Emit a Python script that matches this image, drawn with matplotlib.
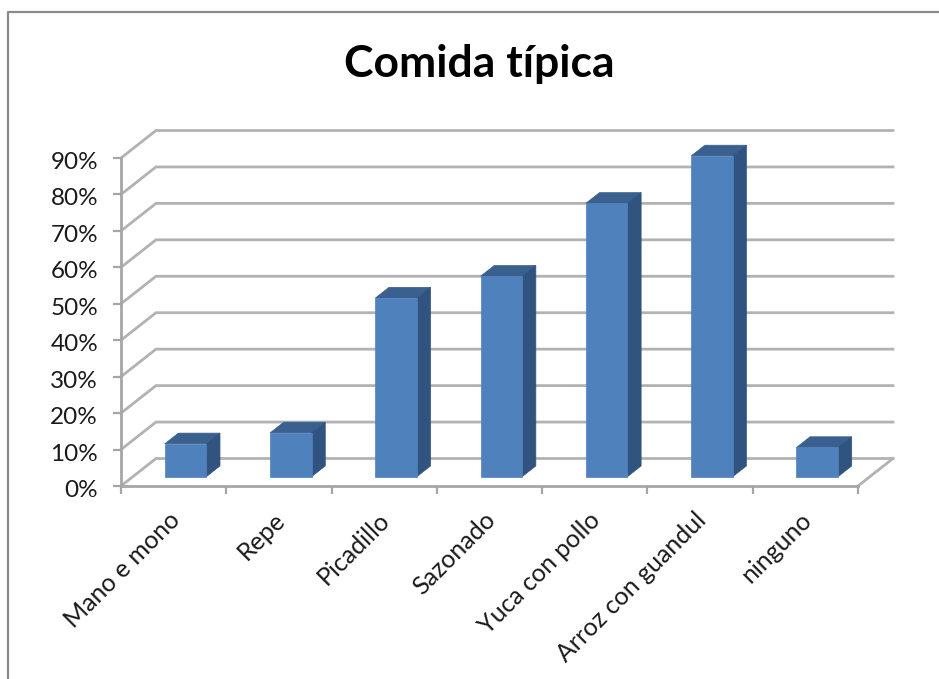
# Comida tipica - fake 3D column chart
import numpy as np
import matplotlib
matplotlib.use('Agg')
import matplotlib.pyplot as plt
from matplotlib.lines import Line2D
from matplotlib.patches import Polygon
from matplotlib.ticker import PercentFormatter
from matplotlib.transforms import ScaledTranslation

categories = ['Mano e mono', 'Repe', 'Picadillo', 'Sazonado',
              'Yuca con pollo', 'Arroz con guandul', 'ninguno']
values = [0.09, 0.12, 0.49, 0.55, 0.75, 0.88, 0.08]
y_ticks = [0.0, 0.1, 0.2, 0.3, 0.4, 0.5, 0.6, 0.7, 0.8, 0.9]

W, H = 939, 679
plt.rcParams['font.family'] = ['Lato', 'DejaVu Sans']

fig = plt.figure(figsize=(W / 100, H / 100), dpi=100)
# front plane of the 3D box
ax = fig.add_axes([121 / W, 1 - 486 / H, 737 / W, 328 / H])
ax.set_xlim(0, len(categories))
ax.set_ylim(0, 0.9)

# depth of the box in data units
depth_x = 35 / 105.3
depth_y = 27.5 / 364.4
bar_width = 0.395
bar_start = 0.34   # where the bar starts inside the depth
bar_depth = 0.39

grid_color = '#b2b2b2'
for y in y_ticks:
    ax.plot([0, depth_x, len(categories) + depth_x], [y, y + depth_y, y + depth_y],
            color=grid_color, lw=2.0, clip_on=False, zorder=1, solid_joinstyle='miter')
ax.plot([len(categories), len(categories) + depth_x], [0, depth_y],
        color=grid_color, lw=2.0, clip_on=False, zorder=1)

# columns, front + top + side
for i, v in enumerate(values):
    x0 = i + 0.5 - bar_width / 2 + bar_start * depth_x
    x1 = x0 + bar_width
    y0 = bar_start * depth_y
    y1 = y0 + v
    dx = bar_depth * depth_x
    dy = bar_depth * depth_y
    ax.add_patch(Polygon([(x0, y1), (x1, y1), (x1 + dx, y1 + dy), (x0 + dx, y1 + dy)],
                         color='#3a6090', clip_on=False, zorder=3, lw=0.5))
    ax.add_patch(Polygon([(x1, y0), (x1 + dx, y0 + dy), (x1 + dx, y1 + dy), (x1, y1)],
                         color='#30547f', clip_on=False, zorder=3, lw=0.5))
    ax.add_patch(Polygon([(x0, y0), (x1, y0), (x1, y1), (x0, y1)],
                         color='#4f81bd', clip_on=False, zorder=4, lw=0.5))

for side in ['top', 'right']:
    ax.spines[side].set_visible(False)
for side in ['left', 'bottom']:
    ax.spines[side].set_color('#a6a6a6')
    ax.spines[side].set_linewidth(2.0)
    ax.spines[side].set_zorder(2)

ax.set_yticks(y_ticks)
ax.yaxis.set_major_formatter(PercentFormatter(1.0, decimals=0))
ax.tick_params(axis='y', length=5.5, width=1.6, color='#a6a6a6', labelsize=17.5,
               labelcolor='#1a1a1a', pad=11)
# the percent labels sit slightly under their ticks
y_shift = ScaledTranslation(0, -2.5 / 100, fig.dpi_scale_trans)
for label in ax.get_yticklabels():
    label.set_transform(label.get_transform() + y_shift)

ax.set_xticks(np.arange(len(categories) + 1))
ax.set_xticklabels([])
ax.tick_params(axis='x', which='major', length=6, width=1.6, color='#a6a6a6')
ax.set_xticks(np.arange(len(categories)) + 0.5, minor=True)
ax.set_xticklabels(categories, minor=True, rotation=45, ha='right', va='top',
                   rotation_mode='anchor', fontsize=18, color='#1a1a1a')
ax.tick_params(axis='x', which='minor', length=0, pad=16)
# the labels sit a bit left of the category centre
shift = ScaledTranslation(-6 / 100, 0, fig.dpi_scale_trans)
for label in ax.get_xticklabels(minor=True):
    label.set_transform(label.get_transform() + shift)

fig.text(479.5 / W, 1 - 63.5 / H, 'Comida típica', ha='center', va='center',
         fontsize=32, fontweight='bold', color='black')

# chart frame, only left and top are inside the picture
fig.add_artist(Line2D([8 / W, 8 / W, 1], [0, 1 - 11.5 / H, 1 - 11.5 / H],
                      color='#8a8a8a', lw=1.6))

fig.savefig('out.png', dpi=100)
